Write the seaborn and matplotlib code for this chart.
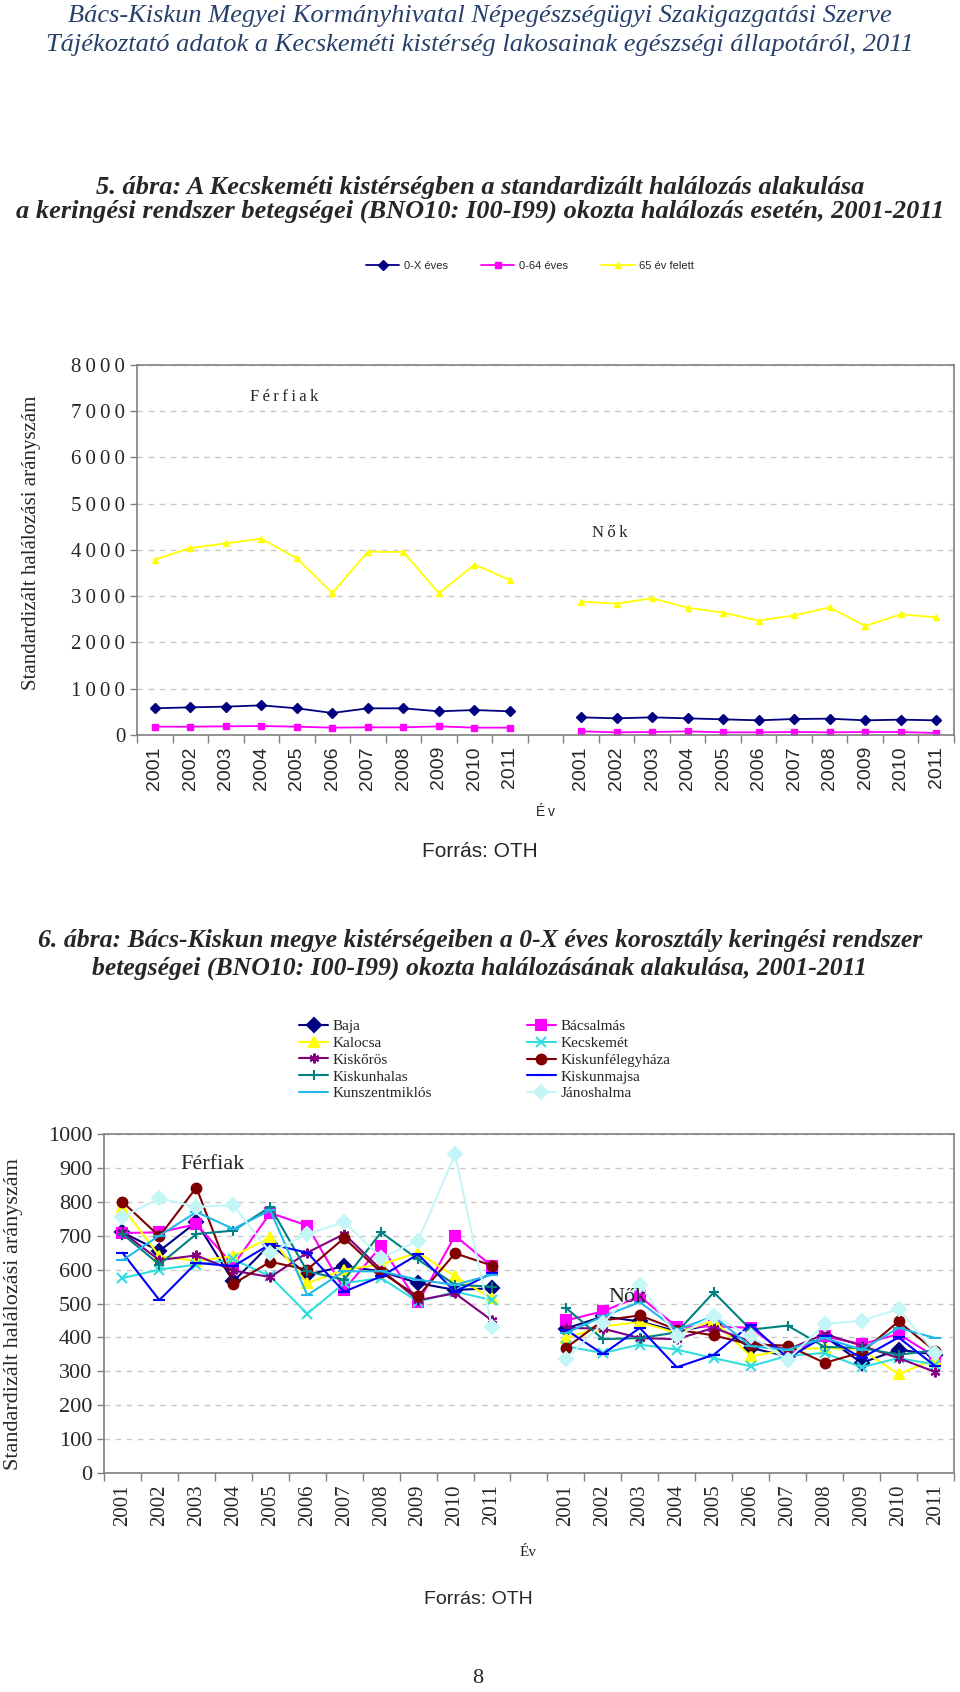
import numpy as np
import pandas as pd
import matplotlib
matplotlib.use("Agg")
import matplotlib.pyplot as plt
import seaborn as sns
from matplotlib.lines import Line2D

sns.set_style("white")
plt.rcParams["font.family"] = ["Liberation Serif", "DejaVu Serif"]

years = [str(y) for y in range(2001, 2012)]

# 5. ábra - Kecskeméti kistérség, korcsoportok
age_groups = ["0-X éves", "0-64 éves", "65 év felett"]
age_colors = ["#000080", "#FF00FF", "#FFFF00"]
age_markers = ["D", "s", "^"]
men_0x = [577, 598, 613, 641, 577, 476, 577, 577, 512, 540, 512]
men_064 = [180, 180, 187, 195, 180, 159, 166, 166, 187, 159, 159]
men_65 = [3791, 4043, 4144, 4245, 3820, 3070, 3964, 3957, 3063, 3683, 3351]
women_0x = [382, 360, 382, 360, 339, 317, 346, 353, 317, 332, 317]
women_064 = [79, 58, 65, 79, 58, 58, 65, 58, 65, 65, 43]
women_65 = [2883, 2840, 2955, 2753, 2645, 2472, 2587, 2760, 2357, 2609, 2544]

# 6. ábra - kistérségek, 0-X éves
districts = ["Baja", "Bácsalmás", "Kalocsa", "Kecskemét", "Kiskőrös",
             "Kiskunfélegyháza", "Kiskunhalas", "Kiskunmajsa",
             "Kunszentmiklós", "Jánoshalma"]
d_colors = ["#000080", "#FF00FF", "#FFFF00", "#33DDDD", "#800080",
            "#800000", "#008080", "#0000FF", "#22B8E8", "#C4F6F8"]
d_markers = ["D", "s", "^", "x", (6, 2, 0), "o", "+", "_", "_", "D"]

men_baja = [710, 655, 740, 565, 675, 585, 610, 595, 560, 540, 545]
men_bacsalmas = [708, 710, 734, 613, 767, 730, 541, 669, 503, 700, 610]
men_kalocsa = [785, 640, 625, 640, 695, 560, 600, 615, 650, 580, 515]
men_kecskemet = [575, 600, 615, 630, 580, 470, 560, 575, 505, 535, 510]
men_kiskoros = [710, 628, 642, 597, 578, 650, 705, 600, 510, 530, 450]
men_felegyhaza = [800, 698, 842, 558, 623, 600, 693, 592, 521, 648, 612]
men_kiskunhalas = [705, 615, 705, 715, 785, 595, 570, 710, 630, 555, 550]
men_majsa = [650, 510, 620, 610, 675, 650, 535, 580, 645, 535, 590]
men_kunszentmiklos = [628, 700, 770, 720, 775, 525, 595, 595, 570, 555, 585]
men_janoshalma = [755, 810, 785, 790, 650, 705, 740, 635, 685, 940, 430]

women_baja = [426, 462, 447, 418, 438, 369, 344, 403, 325, 364, 349]
women_bacsalmas = [450, 477, 521, 431, 433, 428, 349, 403, 380, 410, 342]
women_kalocsa = [398, 433, 445, 413, 450, 344, 364, 369, 364, 292, 336]
women_kecskemet = [374, 354, 379, 364, 339, 315, 346, 354, 312, 339, 320]
women_kiskoros = [428, 426, 398, 395, 428, 388, 364, 410, 376, 339, 298]
women_felegyhaza = [369, 450, 465, 423, 406, 379, 376, 325, 356, 447, 359]
women_kiskunhalas = [487, 395, 398, 415, 533, 423, 435, 372, 369, 349, 362]
women_majsa = [423, 351, 428, 312, 349, 438, 339, 403, 339, 400, 315]
women_kunszentmiklos = [413, 462, 504, 423, 462, 374, 364, 398, 364, 428, 398]
women_janoshalma = [336, 442, 556, 403, 464, 403, 334, 440, 449, 484, 354]

men_d = [men_baja, men_bacsalmas, men_kalocsa, men_kecskemet, men_kiskoros,
         men_felegyhaza, men_kiskunhalas, men_majsa, men_kunszentmiklos,
         men_janoshalma]
women_d = [women_baja, women_bacsalmas, women_kalocsa, women_kecskemet,
           women_kiskoros, women_felegyhaza, women_kiskunhalas, women_majsa,
           women_kunszentmiklos, women_janoshalma]

pos_men = list(range(11))
pos_women = list(range(12, 23))


def long_table(names, men, women):
    rows = []
    for name, m, w in zip(names, men, women):
        for p, v in zip(pos_men, m):
            rows.append((name, "Férfiak", p, v))
        for p, v in zip(pos_women, w):
            rows.append((name, "Nők", p, v))
    return pd.DataFrame(rows, columns=["series", "sex", "pos", "value"])


df1 = long_table(age_groups, [men_0x, men_064, men_65],
                 [women_0x, women_064, women_65])
df2 = long_table(districts, men_d, women_d)


def style_axes(ax, ymax, ystep, tick_size, xtick_font, xtick_size, spaced=False):
    ax.set_xlim(-0.5, 22.5)
    ax.set_ylim(0, ymax)
    yt = np.arange(0, ymax + 1, ystep)
    ax.set_yticks(yt)
    if spaced:
        # letter spaced tick labels like in the original
        ax.set_yticklabels(["\u2009".join(str(int(v))) for v in yt])
    ax.set_xticks(pos_men + pos_women)
    ax.set_xticklabels(years + years, rotation=90, family=xtick_font,
                       fontsize=xtick_size)
    ax.set_xticks(np.arange(-0.5, 23, 1), minor=True)
    ax.tick_params(axis="x", which="major", length=0, pad=8)
    ax.tick_params(axis="x", which="minor", length=6, color="#808080",
                   width=1, direction="out", bottom=True)
    ax.tick_params(axis="y", length=5, color="#808080", width=1,
                   direction="out", left=True, labelsize=tick_size)
    ax.yaxis.grid(True, linestyle=(0, (4, 4)), color="#C8C8C8", linewidth=1)
    ax.xaxis.grid(False)
    for s in ax.spines.values():
        s.set_color("#808080")
        s.set_linewidth(1.2)
    ax.set_xlabel("")
    ax.set_ylabel("")


fig = plt.figure(figsize=(9.6, 16.92), dpi=100)

head_color = "#27406B"
fig.text(0.5, 0.9905, "Bács-Kiskun Megyei Kormányhivatal Népegészségügyi Szakigazgatási Szerve",
         ha="center", va="center", style="italic", fontsize=19, color=head_color)
fig.text(0.5, 0.9734, "Tájékoztató adatok a Kecskeméti kistérség lakosainak egészségi állapotáról, 2011",
         ha="center", va="center", style="italic", fontsize=19, color=head_color)

fig.text(0.5, 0.8889, "5. ábra: A Kecskeméti kistérségben a standardizált halálozás alakulása",
         ha="center", va="center", style="italic", weight="bold", fontsize=19)
fig.text(0.5, 0.8753, "a keringési rendszer betegségei (BNO10: I00-I99) okozta halálozás esetén, 2001-2011",
         ha="center", va="center", style="italic", weight="bold", fontsize=19)

# chart 1
ax1 = fig.add_axes([0.1427, 0.5656, 0.851, 0.2187])
for name, c, m in zip(age_groups, age_colors, age_markers):
    sub = df1[df1["series"] == name]
    sns.lineplot(data=sub, x="pos", y="value", units="sex", estimator=None,
                 color=c, marker=m, markersize=5, mec=c, mew=1,
                 linewidth=1.3, legend=False, ax=ax1)
style_axes(ax1, 8000, 1000, 15, "Liberation Sans", 14, spaced=True)
ax1.text(2.68, 7300, "F\u2009é\u2009r\u2009f\u2009i\u2009a\u2009k", fontsize=12,
         va="center", ha="left")
ax1.text(12.31, 4370, "N\u2009ő\u2009k", fontsize=12, va="center", ha="left")
fig.text(0.033, 0.5656 + 0.2187 / 2 + 0.004, "Standardizált halálozási arányszám",
         rotation=90, ha="center", va="center", fontsize=15)
fig.text(0.568, 0.5201, "É\u2009v", ha="center", va="center", fontsize=10,
         family="Liberation Sans")
fig.text(0.5, 0.4965, "Forrás: OTH", ha="center", va="center", fontsize=15,
         family="Liberation Sans")

h1 = [Line2D([], [], color=c, marker=m, markersize=5, mec=c, linewidth=1.3)
      for c, m in zip(age_colors, age_markers)]
fig.legend(h1, age_groups, loc="center", bbox_to_anchor=(0.552, 0.8428),
           ncol=3, frameon=False, prop={"family": "Liberation Sans", "size": 8},
           handlelength=3.0, columnspacing=3.0, handletextpad=0.4)

# chart 2
fig.text(0.5, 0.4444, "6. ábra: Bács-Kiskun megye kistérségeiben a 0-X éves korosztály keringési rendszer",
         ha="center", va="center", style="italic", weight="bold", fontsize=18.5)
fig.text(0.5, 0.4279, "betegségei (BNO10: I00-I99) okozta halálozásának alakulása, 2001-2011",
         ha="center", va="center", style="italic", weight="bold", fontsize=18.5)

ax2 = fig.add_axes([0.1083, 0.1294, 0.8854, 0.2004])
for name, c, m in zip(districts, d_colors, d_markers):
    sub = df2[df2["series"] == name]
    ms = 7 if m not in ("_",) else 8
    sns.lineplot(data=sub, x="pos", y="value", units="sex", estimator=None,
                 color=c, marker=m, markersize=ms, mec=c, mew=1.5,
                 linewidth=1.5, legend=False, ax=ax2)
style_axes(ax2, 1000, 100, 16, "Liberation Serif", 15)
ax2.text(1.58, 911, "Férfiak", fontsize=16, va="center", ha="left")
ax2.text(13.16, 519, "Nők", fontsize=16, va="center", ha="left")
fig.text(0.014, 0.1294 + 0.2004 / 2 - 0.006, "Standardizált halálozási arányszám",
         rotation=90, ha="center", va="center", fontsize=16)
fig.text(0.55, 0.0822, "Év", ha="center", va="center", fontsize=11)
fig.text(0.498, 0.0544, "Forrás: OTH", ha="center", va="center", fontsize=14,
         family="Liberation Sans")
fig.text(0.498, 0.0077, "8", ha="center", va="center", fontsize=16)

h2 = [Line2D([], [], color=c, marker=m, markersize=7, mec=c, mew=1.5,
             linewidth=1.5) for c, m in zip(d_colors, d_markers)]
order = [0, 2, 4, 6, 8, 1, 3, 5, 7, 9]
fig.legend([h2[i] for i in order], [districts[i] for i in order],
           loc="center", bbox_to_anchor=(0.505, 0.3735), ncol=2, frameon=False,
           prop={"size": 11}, handlelength=1.9, handletextpad=0.3,
           columnspacing=6.2, labelspacing=0.2)

fig.savefig("out.png", dpi=100)
